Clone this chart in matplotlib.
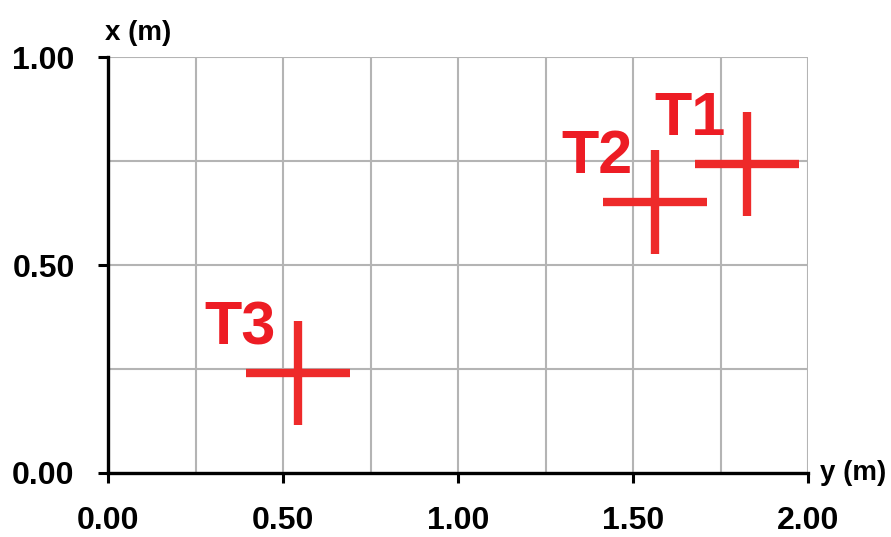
import matplotlib
matplotlib.use("Agg")
import matplotlib.pyplot as plt
from matplotlib.ticker import MultipleLocator, FormatStrFormatter

labels = ["T1", "T2", "T3"]
y_pos = [1.827, 1.563, 0.543]   # horizontal axis: y (m)
x_pos = [0.743, 0.651, 0.240]   # vertical axis: x (m)

xticks = [0.0, 0.5, 1.0, 1.5, 2.0]
yticks = [0.0, 0.5, 1.0]

plt.rcParams['font.family'] = ['Liberation Sans', 'DejaVu Sans']

fig = plt.figure(figsize=(8.91, 5.37), dpi=100)
ax = fig.add_axes([108/891, 1-473/537, 700/891, 416/537])

ax.set_xlim(0, 2)
ax.set_ylim(0, 1)
ax.set_xticks(xticks)
ax.set_yticks(yticks)
ax.xaxis.set_minor_locator(MultipleLocator(0.25))
ax.yaxis.set_minor_locator(MultipleLocator(0.25))
ax.xaxis.set_major_formatter(FormatStrFormatter('%.2f'))
ax.yaxis.set_major_formatter(FormatStrFormatter('%.2f'))
ax.grid(True, which='both', color='#b4b4b4', linewidth=1.5)
ax.set_axisbelow(True)
ax.tick_params(which='minor', length=0)
ax.tick_params(which='major', direction='out', length=7, width=2.2, color='black', pad=17,
               labelsize=23)
for lbl in ax.get_xticklabels() + ax.get_yticklabels():
    lbl.set_fontweight('bold')
for s in ['top', 'right']:
    ax.spines[s].set_visible(False)
for s in ['left', 'bottom']:
    ax.spines[s].set_linewidth(2.4)
    ax.spines[s].set_color('black')

ax.plot(y_pos, x_pos, linestyle='none', marker='+', markersize=75, markeredgewidth=6,
        color='#ee2a2a', clip_on=False, zorder=3)

for lab, yy, xx in zip(labels, y_pos, x_pos):
    ax.annotate(lab, (yy, xx), xytext=(-22, 29), textcoords='offset pixels',
                ha='right', va='baseline', fontsize=44, fontweight='bold', color='#ed1c24')

fig.text(105/891, 1-40/537, 'x (m)', fontsize=20, fontweight='bold', ha='left', va='baseline')
fig.text(820/891, 1-473/537, 'y (m)', fontsize=20, fontweight='bold', ha='left', va='center')

fig.savefig('out.png', dpi=100)
